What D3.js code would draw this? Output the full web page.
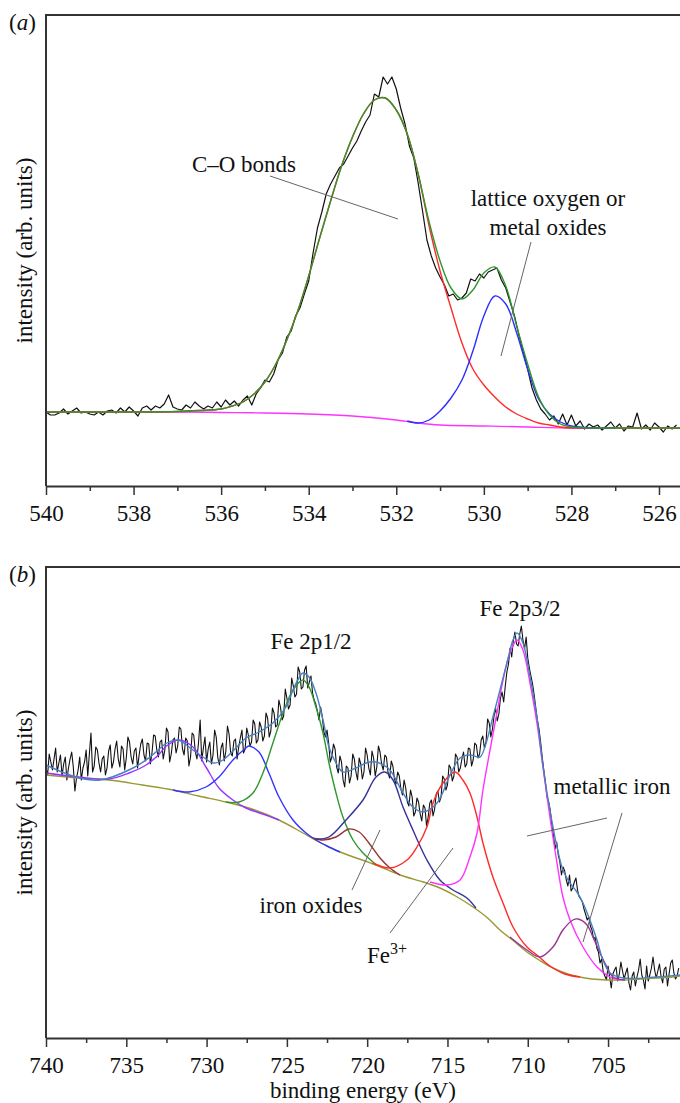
<!DOCTYPE html>
<html>
<head>
<meta charset="utf-8">
<script src="https://cdn.jsdelivr.net/npm/d3@7"></script>
<style>
  body { margin: 0; background: #fff; }
</style>
</head>
<body>
<div id="chart"></div>
<script>
// ---------- panel (a): O 1s ----------
var aTicks = [540, 538, 536, 534, 532, 530, 528, 526];
var aMinor = [539, 537, 535, 533, 531, 529, 527];
var aRawStart = 540.0, aRawStep = 0.1;
var aRaw = [
  74,71,71,73,77,72,75,78,73,74,
  72,71,74,71,75,76,73,78,74,79,
  75,70,78,80,76,80,78,82,91,79,
  77,76,81,78,84,80,77,80,78,84,
  79,86,81,85,80,
  86,90,81,92,98,
  106,104,112,126,133,149,155,170,178,192,
  205,233,258,274,292,302,310,318,322,330,
  338,345,355,364,371,392,389,409,402,409,
  397,378,362,340,328,303,275,246,230,218,
  209,201,190,192,186,188,193,207,205,212,
  208,214,216,218,206,198,184,170,151,134,
  117,98,86,77,72,66,70,62,72,61,
  71,60,65,57,62,59,61,56,60,64,
  58,62,55,60,59,73,57,61,56,63,
  59,54,60,57,61
];
// fitted curves, [binding energy, intensity]
var aTotal = [[540,74],[539,74],[538,74],[537,74.5],[536.5,75.5],[536,77],[535.75,80],[535.5,84],[535.25,92],[535,104],[534.75,122],[534.5,146],[534.25,175],[534,210],[533.75,248],[533.5,285],[533.25,320],[533,349],[532.75,372],[532.5,386],[532.25,388],[532,376],[531.75,352],[531.5,312],[531.25,264],[531,225],[530.75,198],[530.5,187],[530.25,196],[530,213],[529.75,219],[529.5,200],[529.25,160],[529,122],[528.75,89],[528.5,71],[528.25,62],[528,59],[527.5,58],[527,58],[526,58],[525.5,58]];
var aCO = [[540,74],[539,74],[538,74],[537,74.5],[536.5,75.5],[536,77],[535.75,80],[535.5,84],[535.25,92],[535,104],[534.75,122],[534.5,146],[534.25,175],[534,210],[533.75,248],[533.5,285],[533.25,320],[533,349],[532.75,372],[532.5,386],[532.25,388],[532,376],[531.75,352],[531.5,312],[531.25,260],[531,215],[530.75,178],[530.5,143],[530.25,117],[530,101],[529.75,89],[529.5,79],[529.25,72],[529,67],[528.75,63],[528.5,61],[528.25,59],[528,58],[527.5,58],[526,58],[525.5,58]];
var aLattice = [[531.75,65],[531.5,63],[531.25,66],[531,75],[530.75,88],[530.5,106],[530.25,135],[530,170],[529.75,190],[529.5,182],[529.25,153],[529,117],[528.75,87],[528.5,72],[528.25,64],[528,60],[527.5,58],[527,58]];
var aBackground = [[540,74],[537,74],[536,73.5],[535,73],[534,72],[533,70],[532,66],[531.5,63],[531,61],[530,60],[529,59],[528,58],[525.5,58]];

// ---------- panel (b): Fe 2p ----------
var bTicks = [740, 735, 730, 725, 720, 715, 710, 705];
var bMinor = [737.5, 732.5, 727.5, 722.5, 717.5, 712.5, 707.5, 702.5];
var bRawStart = 740.0, bRawStep = 0.1;
var bRaw = [
  270,263,284,276,268,279,290,266,275,283,262,274,281,258,270,279,286,271,247,260,
  268,281,258,270,276,288,262,284,305,266,272,291,288,275,266,279,282,263,270,287,
  293,270,276,289,297,279,271,292,289,268,280,301,296,281,274,287,290,270,283,294,
  299,283,277,295,294,274,285,303,302,288,281,296,298,279,288,310,306,276,284,298,
  300,285,292,311,309,289,283,300,297,272,281,305,303,286,279,296,318,277,290,301,
  276,289,296,274,283,308,301,280,273,290,295,277,287,312,304,285,282,297,299,279,
  291,300,308,285,289,310,303,292,296,318,314,295,298,316,311,297,302,325,320,301,
  307,330,325,311,313,338,331,318,322,349,340,329,333,360,352,341,344,371,366,349,
  351,368,372,350,356,362,345,338,334,327,318,331,322,306,301,308,295,276,281,294,
  289,271,265,282,276,258,251,272,270,255,262,284,279,266,258,280,274,259,266,290,
  283,270,263,287,280,262,271,292,286,274,268,283,281,265,260,277,272,259,254,266,
  262,249,243,258,250,236,232,248,241,222,226,240,236,224,217,233,230,212,221,235,
  238,222,229,244,247,236,241,262,259,248,253,273,270,257,262,284,281,266,270,279,
  286,271,274,290,289,272,278,295,293,280,284,298,302,290,296,319,315,301,309,322,
  330,317,324,340,346,336,352,366,374,390,381,397,406,394,392,404,412,398,389,401,
  380,370,362,354,343,330,318,309,296,281,268,256,241,236,228,212,203,189,196,183,
  176,163,171,167,158,152,163,147,150,156,160,148,141,139,136,129,124,118,121,112,
  108,99,101,90,86,75,79,66,62,58,72,61,50,64,68,71,57,64,76,67,
  59,65,70,55,48,62,66,52,61,68,79,63,58,49,72,57,63,70,81,68,
  60,67,74,62,55,69,71,52,64,75,78,65,59,62,70
];
var bEnvelope = [[740,273],[738.13,261],[736.64,258],[734.58,270],[733.52,281],[732.47,295],[731.78,298],[730.85,288],[730.22,281],[729.6,275],[728.98,278],[728.17,290],[727.55,300],[726.74,306],[725.87,315],[725.06,331],[724.62,348],[724.25,360],[724,365],[723.62,361],[723.19,345],[722.75,318],[722.38,291],[721.94,275],[721.51,266],[720.7,270],[720.07,275],[719.45,276],[719.01,273],[718.58,268],[717.77,245],[717.15,231],[716.53,226],[715.65,235],[714.84,263],[714.22,280],[713.6,283],[712.98,281],[712.67,291],[712.17,321],[711.73,348],[711.3,375],[710.92,398],[710.67,405],[710.3,395],[709.86,361],[709.43,321],[709.05,271],[708.62,228],[708.18,191],[707.81,168],[707.37,155],[706.94,146],[706.56,135],[706.13,118],[705.69,98],[705.32,78],[704.88,65],[704.07,60],[702,61],[700.52,63]];
var bBackground = [[740,263],[738,260],[736.08,258],[734,253],[732.09,248],[730.5,242],[728.79,236],[727,228],[725.49,218],[724,205],[723,196],[721.69,186],[719.45,173],[717.96,163],[716.5,156],[715.47,150],[714.5,142],[713.41,131],[712.5,120],[711.73,108],[710.8,96],[710.05,86],[709.2,77],[708.43,70],[707.5,64],[706.75,61],[706,59],[705.07,58],[704,58],[703,59],[702,60],[701,61],[700.52,62]];
var bSat1 = [[740,265],[738,261],[736.08,259],[734.83,265],[733.77,273],[733,283],[732.5,292],[731.72,298],[730.85,291],[730.04,271],[729.23,250],[728.36,238],[727.55,230],[726.5,224],[725.49,218]];
var bSat2 = [[732.09,248],[731.1,246],[730.04,251],[729.23,261],[728.36,278],[727.55,290],[727.36,292],[726.74,286],[726.12,265],[725.49,241],[724.62,218],[723.81,205],[723.19,198],[722.5,192],[721.69,186]];
var bFe2p12 = [[728.79,236],[727.98,236],[727.11,245],[726.49,265],[725.87,295],[725.24,325],[724.62,348],[724,358],[723.62,351],[723.19,331],[722.75,305],[722.38,275],[721.94,245],[721.51,221],[720.88,198],[720.26,185],[719.64,176],[719.45,173]];
var bOxide1 = [[723.37,200],[722.75,198],[721.94,201],[721.13,209],[720.5,206],[719.89,195],[719.2,180],[718.58,170],[717.96,163]];
var bOxide2 = [[723.19,199],[722.38,201],[721.32,218],[720.26,238],[719.45,261],[718.89,266],[718.39,258],[717.77,231],[717.15,208],[716.28,178],[715.47,158],[714.66,148],[713.79,140],[713.23,130]];
var bFe3 = [[719.64,175],[718.58,170],[717.52,178],[716.9,191],[716.28,211],[715.9,235],[715.28,255],[714.53,266],[714.04,258],[713.6,245],[713.16,221],[712.79,195],[712.17,161],[711.54,135],[710.92,111],[710.05,91],[709.43,83],[708.62,72],[707.7,64],[706.75,61]];
var bFe2p32 = [[716.09,156],[715.03,153],[714.22,158],[713.6,181],[713.16,205],[712.79,248],[712.35,288],[711.92,325],[711.54,358],[711.11,385],[710.67,398],[710.3,388],[709.86,355],[709.43,315],[709.05,271],[708.62,221],[708.18,175],[707.81,141],[707.37,118],[706.56,91],[705.69,71],[704.88,61],[704.26,58]];
var bMetal = [[711.11,101],[710.05,88],[709.24,81],[708.43,91],[707.81,108],[707.19,118],[706.87,119],[706.31,113],[705.94,101],[705.5,85],[705.07,71],[704.69,61],[703.95,58]];

var FONT = "'Liberation Serif', 'Times New Roman', Times, 'DejaVu Serif', serif";

(function() {

    var svg = d3.select("#chart")
        .append("svg")
        .attr("width", 680)
        .attr("height", 1103)
        .attr("font-family", FONT);

    function label(sel) {
        return sel.attr("font-family", FONT).attr("font-size", 23).attr("fill", "#111");
    }

    function panel(opt) {
        var x = d3.scaleLinear().domain(opt.xDomain).range([46, 680]);
        var y = d3.scaleLinear().domain([0, 471]).range([opt.bottom, opt.top]);
        var g = svg.append("g");

        var line = d3.line().x(function(d) { return x(d[0]); }).y(function(d) { return y(d[1]); });
        var smooth = d3.line().x(function(d) { return x(d[0]); }).y(function(d) { return y(d[1]); })
            .curve(d3.curveCatmullRom.alpha(0.5));

        // measured spectrum
        var raw = opt.raw.map(function(v, i) { return [opt.rawStart - i * opt.rawStep, v]; });
        g.append("path").datum(raw)
            .attr("d", line)
            .attr("fill", "none")
            .attr("stroke", "#111")
            .attr("stroke-width", opt.rawWidth)
            .attr("stroke-linejoin", "round");

        // fitted components on top
        opt.curves.forEach(function(c) {
            g.append("path").datum(c.data)
                .attr("d", smooth)
                .attr("fill", "none")
                .attr("stroke", c.color)
                .attr("stroke-width", 1.4);
        });

        // minor ticks
        g.append("g")
            .attr("transform", "translate(0," + opt.bottom + ")")
            .call(d3.axisBottom(x).tickValues(opt.minor).tickSize(5).tickFormat(""))
            .call(function(a) { a.select(".domain").remove(); })
            .selectAll("line").attr("stroke", "#333").attr("stroke-width", 1.5);

        // major ticks + labels
        var ax = g.append("g")
            .attr("transform", "translate(0," + opt.bottom + ")")
            .call(d3.axisBottom(x).tickValues(opt.ticks).tickSize(9).tickPadding(10).tickSizeOuter(0));
        ax.attr("font-family", FONT).attr("font-size", 23);
        ax.select(".domain").attr("stroke", "#333").attr("stroke-width", 2);
        ax.selectAll("line").attr("stroke", "#333").attr("stroke-width", 1.5);
        ax.selectAll("text").attr("fill", "#111");

        // left and top frame
        g.append("path")
            .attr("d", "M46," + opt.bottom + "V" + opt.top + "H680")
            .attr("fill", "none")
            .attr("stroke", "#333")
            .attr("stroke-width", 2);

        // y label
        label(g.append("text"))
            .attr("transform", "translate(32," + ((opt.top + opt.bottom) / 2) + ") rotate(-90)")
            .attr("text-anchor", "middle")
            .text("intensity (arb. units)");

        // panel letter
        var lt = label(g.append("text")).attr("x", 9).attr("y", opt.top + 15);
        lt.append("tspan").text("(");
        lt.append("tspan").attr("font-style", "italic").text(opt.letter);
        lt.append("tspan").text(")");

        // leader lines
        opt.leaders.forEach(function(l) {
            g.append("line")
                .attr("x1", l[0]).attr("y1", l[1]).attr("x2", l[2]).attr("y2", l[3])
                .attr("stroke", "#666").attr("stroke-width", 1);
        });

        // annotations
        opt.notes.forEach(function(n) {
            var t = label(g.append("text"))
                .attr("x", n.x).attr("y", n.y)
                .attr("text-anchor", n.anchor || "middle");
            t.append("tspan").text(n.text);
            if (n.sup) {
                t.append("tspan").attr("dy", -9).attr("font-size", 16).text(n.sup);
            }
        });
        return g;
    }

    panel({
        letter: "a",
        xDomain: [540, 525.52],
        top: 15, bottom: 486,
        ticks: aTicks, minor: aMinor,
        raw: aRaw, rawStart: aRawStart, rawStep: aRawStep, rawWidth: 1.2,
        curves: [
            { data: aBackground, color: "#ff33ff" },
            { data: aCO, color: "#ff2a2a" },
            { data: aLattice, color: "#2f2fff" },
            { data: aTotal, color: "#2e962e" }
        ],
        leaders: [[270, 176, 398, 219], [531, 242, 501, 356]],
        notes: [
            { text: "C\u2013O bonds", x: 244, y: 172 },
            { text: "lattice oxygen or", x: 548, y: 206 },
            { text: "metal oxides", x: 548, y: 235 }
        ]
    });

    panel({
        letter: "b",
        xDomain: [740, 700.52],
        top: 567, bottom: 1038,
        ticks: bTicks, minor: bMinor,
        raw: bRaw, rawStart: bRawStart, rawStep: bRawStep, rawWidth: 1.1,
        curves: [
            { data: bBackground, color: "#999933" },
            { data: bSat1, color: "#9933ff" },
            { data: bSat2, color: "#3333ff" },
            { data: bFe2p12, color: "#2e962e" },
            { data: bOxide1, color: "#993333" },
            { data: bOxide2, color: "#333399" },
            { data: bFe3, color: "#ff2a2a" },
            { data: bFe2p32, color: "#ff33ff" },
            { data: bMetal, color: "#993399" },
            { data: bEnvelope, color: "#4a80c0" }
        ],
        leaders: [[352, 890, 380, 830], [390, 933, 453, 848], [527, 836, 607, 818], [622, 813, 583, 942]],
        notes: [
            { text: "Fe 2p1/2", x: 311, y: 649 },
            { text: "Fe 2p3/2", x: 520, y: 616 },
            { text: "metallic iron", x: 612, y: 794 },
            { text: "iron oxides", x: 311, y: 913 },
            { text: "Fe", sup: "3+", x: 367, y: 963, anchor: "start" }
        ]
    });

    label(svg.append("text"))
        .attr("x", 363).attr("y", 1098)
        .attr("text-anchor", "middle")
        .text("binding energy (eV)");

})();
</script>
</body>
</html>
